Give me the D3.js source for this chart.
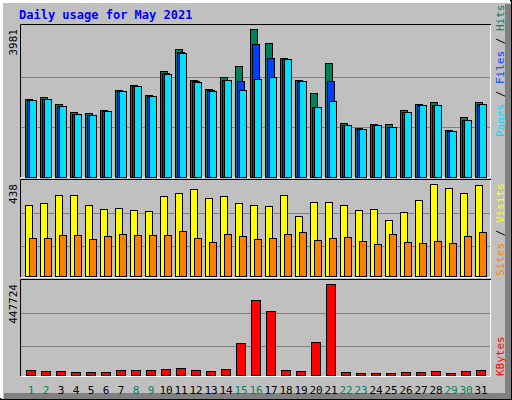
<!DOCTYPE html>
<html><head><meta charset="utf-8">
<script src="https://cdn.jsdelivr.net/npm/d3@7"></script>
<style>body{margin:0;background:#fff}text{font-family:"DejaVu Sans Mono",monospace}</style>
</head><body>
<script>
// values
const days = d3.range(1, 32);
const weekend = [1, 2, 8, 9, 15, 16, 22, 23, 29, 30];
const hits = [2090,2144,1956,1740,1713,1794,2340,2467,2198,2843,3435,2601,2359,2682,2978,3981,3596,3193,2601,2252,3059,1445,1310,1418,1418,1794,1956,2009,1256,1606,2009];
const files = [2080,2110,1920,1700,1680,1785,2320,2455,2185,2790,3350,2570,2330,2620,2582,3570,3193,3180,2590,1891,2574,1410,1295,1400,1350,1760,1940,1945,1240,1540,1975];
const pages = [2063,2090,1902,1687,1660,1767,2305,2440,2171,2763,3327,2547,2305,2601,2332,2628,2682,3166,2574,1875,2036,1391,1283,1391,1337,1740,1929,1929,1229,1525,1956];
const visits = [338,348,386,386,338,319,324,314,309,381,395,414,371,381,348,338,333,386,286,352,352,338,314,319,267,305,362,438,419,395,433];
const sites = [181,181,195,195,176,190,200,195,195,195,214,181,162,200,190,176,181,200,209,171,181,186,167,152,200,162,157,167,157,190,209];
const kbytes = [26100,21200,21200,16300,16300,16300,26100,26100,26100,31000,35900,26100,21200,31000,158500,369300,315400,26100,21200,163400,447724,16300,11400,11400,11400,16300,16300,21200,11400,21200,26100];

const W = 512, H = 400;
const svg = d3.select("body").append("svg").attr("width", W).attr("height", H);

// frame with bevel
svg.append("rect").attr("width", W).attr("height", H).attr("fill", "#c0c0c0");
svg.append("rect").attr("x", 0.5).attr("y", 0.5).attr("width", W - 1).attr("height", H - 1).attr("fill", "none").attr("stroke", "#000");
svg.append("path").attr("d", "M1.5,398 V1.5 H510").attr("fill", "none").attr("stroke", "#fff").attr("stroke-width", 3);
svg.append("path").attr("d", `M${W - 4},4 V${H - 4} H4`).attr("fill", "none").attr("stroke", "#808080").attr("stroke-width", 6);

svg.append("text").attr("x", 19).attr("y", 19).attr("fill", "#0000ff").attr("font-size", 12).attr("font-weight", "bold").text("Daily usage for May 2021");

const x = d3.scaleLinear().domain([1, 31]).range([25, 475]);

// panel boxes
const panels = [[25, 177], [180, 277], [280, 376]];
panels.forEach(([t, b]) => {
  svg.append("path").attr("d", `M20.5,${b} V${t - 0.5} H491`).attr("fill", "none").attr("stroke", "#000");
  svg.append("path").attr("d", `M21,${b + 0.5} H490.5 V${t}`).attr("fill", "none").attr("stroke", "#fff");
  const h = b - t;
  [1 / 3, 2 / 3].forEach(f => {
    // grid positions follow the picture's thirds
  });
});
const grids = [77, 127, 213, 246, 313, 346];
grids.forEach(g => svg.append("line").attr("x1", 21).attr("x2", 490).attr("y1", g + 0.5).attr("y2", g + 0.5).attr("stroke", "#808080"));

const y1 = d3.scaleLinear().domain([0, d3.max(hits)]).range([177, 29]);
const y2 = d3.scaleLinear().domain([0, d3.max(visits)]).range([276, 184]);
const y3 = d3.scaleLinear().domain([0, d3.max(kbytes)]).range([375, 284]);

function bars(data, y, off, w, color) {
  svg.append("g").selectAll("rect").data(data).enter().append("rect")
    .attr("x", (d, i) => x(days[i]) + off + 0.5)
    .attr("y", d => Math.round(y(d)) + 0.5)
    .attr("width", w)
    .attr("height", d => Math.max(1, y(0) - Math.round(y(d))))
    .attr("fill", color).attr("stroke", "#000");
}
bars(hits, y1, 0, 7, "#00805c");
bars(files, y1, 2, 7, "#0040ff");
bars(pages, y1, 4, 7, "#00e0ff");
bars(visits, y2, 0, 7, "#ffff00");
bars(sites, y2, 4, 7, "#ff8000");
bars(kbytes, y3, 1, 9, "#ff0000");

// left max labels
[[d3.max(hits), 29], [d3.max(visits), 184], [d3.max(kbytes), 284]].forEach(([v, yy]) => {
  svg.append("text").attr("transform", `translate(17,${yy}) rotate(-90)`).attr("text-anchor", "end")
    .attr("font-size", 11).attr("fill", "#000").text(v);
});

// right legends
function legend(parts, yBottom) {
  const t = svg.append("text").attr("transform", `translate(504,${yBottom}) rotate(-90)`).attr("font-size", 11);
  parts.forEach(([s, c]) => t.append("tspan").attr("fill", c).text(s));
}
legend([["Pages", "#00e0ff"], [" / ", "#000"], ["Files", "#0040ff"], [" / ", "#000"], ["Hits", "#00805c"]], 137);
legend([["Sites", "#ff8000"], [" / ", "#000"], ["Visits", "#ffff00"]], 276);
legend([["KBytes", "#ff0000"]], 376);

// day labels
svg.append("g").selectAll("text").data(days).enter().append("text")
  .attr("x", d => x(d) + 6).attr("y", 394).attr("text-anchor", "middle").attr("font-size", 11)
  .attr("fill", d => weekend.includes(d) ? "#00805c" : "#000").text(d => d);
</script>
</body></html>
